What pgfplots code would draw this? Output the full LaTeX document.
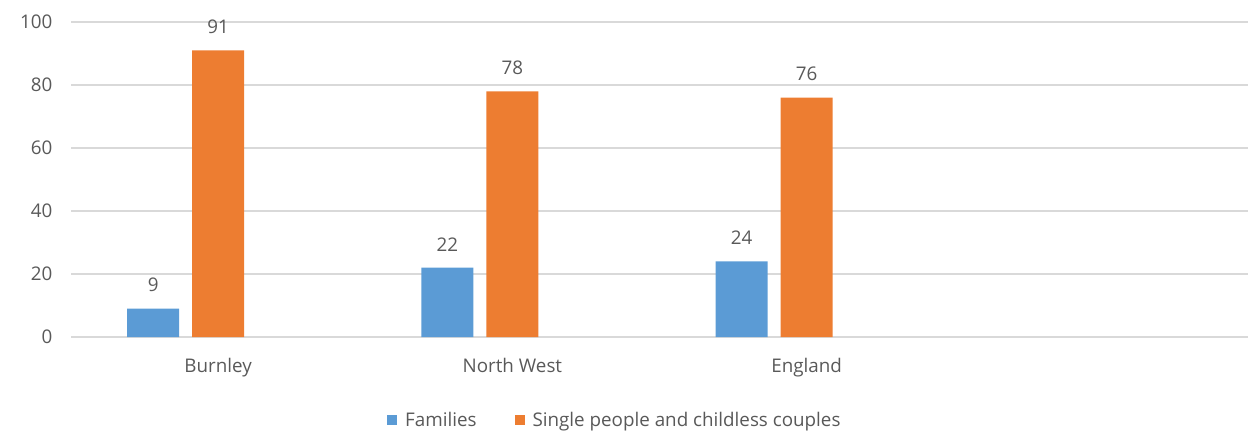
\documentclass[border=0pt]{standalone}
\usepackage{fontspec}
\setmainfont{Open Sans}
\usepackage{pgfplots}
\pgfplotsset{compat=1.18}
\definecolor{cblue}{HTML}{5B9BD5}
\definecolor{corange}{HTML}{ED7D31}
\definecolor{cgrid}{HTML}{D9D9D9}
\definecolor{ctext}{HTML}{595959}
\newcommand{\cfont}{\fontsize{18.8bp}{22bp}\selectfont}
\begin{document}
\begin{tikzpicture}
\begin{axis}[
  scale only axis, width=1177bp, height=315bp,
  xmin=-0.5, xmax=3.5, ymin=0, ymax=100,
  ytick={0,20,...,100}, xtick={0,1,2},
  xticklabels={Burnley,North West,England},
  ymajorgrids, grid style={cgrid, line width=1.3bp},
  axis line style={draw=none}, major tick length=0pt,
  tick label style={font=\cfont, text=ctext},
  /pgf/number format/assume math mode=true,
  yticklabel style={xshift=-15bp},
  xticklabel style={yshift=-18bp},
  ybar, bar width=52bp,
  nodes near coords,
  nodes near coords style={font=\cfont, text=ctext, yshift=13bp},
  legend columns=2,
  legend style={at={(0.462,-0.263)}, anchor=center, draw=none, font=\cfont, text=ctext,
    /tikz/every even column/.append style={column sep=36bp},
    /tikz/every odd column/.append style={column sep=6bp}},
  legend image code/.code={\fill[#1] (0bp,-5bp) rectangle (10bp,5bp);},
]
\addplot[fill=cblue, draw=none, bar shift=-65bp] coordinates {(0,9) (1,22) (2,24)};
\addplot[fill=corange, draw=none, bar shift=0bp] coordinates {(0,91) (1,78) (2,76)};
\legend{Families, Single people and childless couples}
\end{axis}
\pgfresetboundingbox
\path ([xshift=-71bp,yshift=-95bp]current axis.south west) rectangle ([yshift=22bp]current axis.north east);
\end{tikzpicture}
\end{document}
